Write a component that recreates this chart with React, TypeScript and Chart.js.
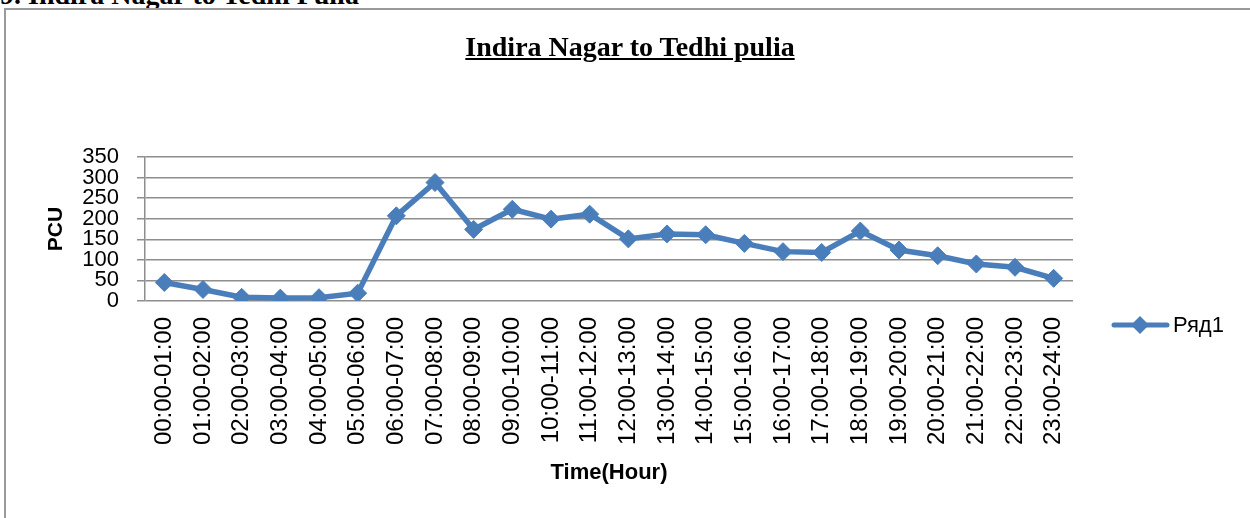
import React, { useEffect, useRef } from "react";
import { Chart, registerables } from "chart.js";

Chart.register(...registerables);

const categories: string[] = [
  "00:00-01:00", "01:00-02:00", "02:00-03:00", "03:00-04:00", "04:00-05:00", "05:00-06:00",
  "06:00-07:00", "07:00-08:00", "08:00-09:00", "09:00-10:00", "10:00-11:00", "11:00-12:00",
  "12:00-13:00", "13:00-14:00", "14:00-15:00", "15:00-16:00", "16:00-17:00", "17:00-18:00",
  "18:00-19:00", "19:00-20:00", "20:00-21:00", "21:00-22:00", "22:00-23:00", "23:00-24:00",
];
const seriesName = "Ряд1";
const pcuValues: number[] = [45, 28, 9, 7, 8, 19, 207, 288, 174, 223, 199, 211, 151, 163, 161, 140, 120, 118, 170, 124, 110, 90, 82, 55];
const yTicks: number[] = [0, 50, 100, 150, 200, 250, 300, 350];
const chartTitle = "Indira Nagar to Tedhi pulia";
const headerText = "9. Indira Nagar to Tedhi Pulia";
const yTitle = "PCU";
const xTitle = "Time(Hour)";

const BLUE = "#4a7ebb";
const GRID = "#8e8e8e";

const legendPlugin = {
  id: "excelLegend",
  afterDraw(chart: any) {
    const ctx = chart.ctx;
    const y = 325;
    ctx.save();
    ctx.strokeStyle = BLUE;
    ctx.lineWidth = 5;
    ctx.lineCap = "round";
    ctx.beginPath();
    ctx.moveTo(1114, y);
    ctx.lineTo(1167, y);
    ctx.stroke();
    ctx.fillStyle = BLUE;
    ctx.beginPath();
    ctx.moveTo(1140, y - 9);
    ctx.lineTo(1149, y);
    ctx.lineTo(1140, y + 9);
    ctx.lineTo(1131, y);
    ctx.closePath();
    ctx.fill();
    ctx.fillStyle = "#000";
    ctx.font = "22px 'Liberation Sans', Arial, sans-serif";
    ctx.textBaseline = "middle";
    ctx.textAlign = "left";
    ctx.fillText(chart.data.datasets[0].label, 1173, y + 1);
    ctx.restore();
  },
};

export default function App() {
  const canvasRef = useRef<HTMLCanvasElement | null>(null);

  useEffect(() => {
    if (!canvasRef.current) return;
    const chart = new Chart(canvasRef.current, {
      type: "line",
      data: {
        labels: categories,
        datasets: [
          {
            label: seriesName,
            data: pcuValues,
            borderColor: BLUE,
            backgroundColor: BLUE,
            borderWidth: 5.5,
            pointStyle: "rectRot",
            pointRadius: 9,
            pointBorderWidth: 1,
            pointBackgroundColor: BLUE,
            pointBorderColor: BLUE,
            tension: 0,
          },
        ],
      },
      options: {
        animation: false,
        responsive: false,
        maintainAspectRatio: false,
        layout: { padding: { left: 0, right: 177, top: 157, bottom: 0 } },
        plugins: {
          legend: { display: false },
          title: { display: false },
          tooltip: { enabled: false },
        },
        scales: {
          x: {
            type: "category",
            offset: true,
            grid: { display: false, offset: true },
            border: { display: false },
            ticks: {
              autoSkip: false,
              maxRotation: 90,
              minRotation: 90,
              padding: 8,
              color: "#000",
              font: { family: "'Liberation Sans', Arial, sans-serif", size: 24 },
            },
            title: {
              display: true,
              text: xTitle,
              color: "#000",
              font: { family: "'Liberation Sans', Arial, sans-serif", size: 22, weight: "bold" },
              padding: { top: 0, bottom: 32 },
            },
            afterFit(scale: any) {
              scale.height = 518 - 301;
            },
          },
          y: {
            min: 0,
            max: 350,
            afterBuildTicks(scale: any) {
              scale.ticks = yTicks.map((v) => ({ value: v }));
            },
            grid: {
              color: GRID,
              lineWidth: 1.5,
              drawTicks: true,
              tickLength: 8,
            },
            border: { display: true, color: GRID, width: 1.5 },
            ticks: {
              autoSkip: false,
              padding: 18,
              color: "#000",
              font: { family: "'Liberation Sans', Arial, sans-serif", size: 22, lineHeight: 0.9 },
            },
            title: {
              display: true,
              text: yTitle,
              color: "#000",
              font: { family: "'Liberation Sans', Arial, sans-serif", size: 21, weight: "bold" },
              padding: { top: 44, bottom: 0 },
            },
            afterFit(scale: any) {
              scale.width = 145;
            },
          },
        },
      },
      plugins: [legendPlugin],
    });
    return () => chart.destroy();
  }, []);

  return (
    <div style={{ position: "fixed", left: 0, top: 0, width: 1250, height: 518, overflow: "hidden", background: "#fff" }}>
      <div
        style={{
          position: "absolute",
          left: 0,
          top: -19,
          fontFamily: "'Liberation Serif', 'Times New Roman', serif",
          fontWeight: "bold",
          fontSize: 28,
          lineHeight: "28px",
          whiteSpace: "nowrap",
          color: "#000",
        }}
      >
        {headerText}
      </div>
      <div
        style={{
          position: "absolute",
          left: 4,
          top: 8,
          width: 1400,
          height: 700,
          border: "2px solid #9a9a9a",
          boxSizing: "border-box",
        }}
      />
      <canvas ref={canvasRef} width={1250} height={518} style={{ position: "absolute", left: 0, top: 0 }} />
      <div
        style={{
          position: "absolute",
          left: 630,
          top: 33,
          transform: "translateX(-50%)",
          fontFamily: "'Liberation Serif', 'Times New Roman', serif",
          fontWeight: "bold",
          fontSize: 28,
          lineHeight: "28px",
          textDecoration: "underline",
          whiteSpace: "nowrap",
          color: "#000",
        }}
      >
        {chartTitle}
      </div>
    </div>
  );
}
